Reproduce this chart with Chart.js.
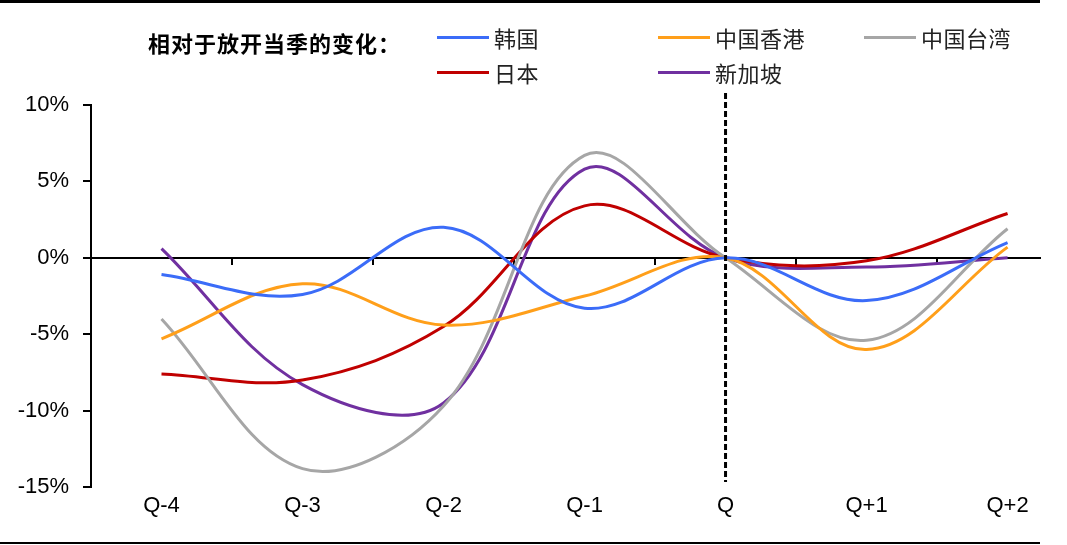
<!DOCTYPE html>
<html>
<head>
<meta charset="utf-8">
<script src="https://cdn.jsdelivr.net/npm/chart.js@4.4.1/dist/chart.umd.min.js"></script>
<style>
  body { margin: 0; background: #fff; }
  #wrap { position: relative; width: 1067px; height: 545px; overflow: hidden; }
  #chartBox { position: absolute; left: 0; top: 0; width: 1067px; height: 545px; }
  .rule { position: absolute; left: 0; width: 1040px; background: #000; }
  #title {
    position: absolute; left: 148px; top: 28px; letter-spacing: 1px;
    font: bold 22px "Noto Sans CJK SC", sans-serif; color: #000; line-height: 28px;
  }
  .leg { position: absolute; height: 28px; display: flex; align-items: center; }
  .leg i { display: block; width: 52px; height: 3px; margin-right: 5px; }
  .leg span { font: 22px "Noto Sans CJK SC", sans-serif; color: #222; line-height: 28px; letter-spacing: 0.5px; }
</style>
</head>
<body>
<div id="wrap">
  <div class="rule" style="top:0;height:3px"></div>
  <div id="chartBox"><canvas id="myChart"></canvas></div>
  <div id="title">相对于放开当季的变化：</div>
  <div id="legend"></div>
  <div class="rule" style="top:542px;height:2px"></div>
</div>
<script>
// 季度（放开当季为 Q）
const categories = ['Q-4', 'Q-3', 'Q-2', 'Q-1', 'Q', 'Q+1', 'Q+2'];

// 各地相对于放开当季的变化，%
const korea     = [-1.1,  -2.4,   2.0, -3.3, 0, -2.8, 1.0];
const hongKong  = [-5.3,  -1.7,  -4.4, -2.5, 0, -6.0, 0.7];
const taiwan    = [-4.0, -13.8,  -9.7,  6.7, 0, -5.4, 1.9];
const japan     = [-7.6,  -8.0,  -4.5,  3.4, 0, -0.2, 2.9];
const singapore = [ 0.6,  -8.3,  -9.5,  5.8, 0, -0.6, 0.0];

const seriesNames  = ['韩国', '中国香港', '中国台湾', '日本', '新加坡'];
const seriesValues = [korea, hongKong, taiwan, japan, singapore];
const seriesColors = ['#3b6cf8', '#ff9f1a', '#a6a6a6', '#c00000', '#7030a0'];

const yTicks = [-15, -10, -5, 0, 5, 10];

// 图例：三列两行
const legendBox = document.getElementById('legend');
const legCols = [437, 658, 864];
const legRows = [23, 58];
seriesNames.forEach((name, i) => {
  const d = document.createElement('div');
  d.className = 'leg';
  d.style.left = legCols[i % 3] + 'px';
  d.style.top = legRows[Math.floor(i / 3)] + 'px';
  d.innerHTML = `<i style="background:${seriesColors[i]}"></i><span>${name}</span>`;
  legendBox.appendChild(d);
});

const toPoints = arr => arr.map((v, i) => ({ x: i, y: v }));

// 放开当季的竖虚线
const qLine = {
  id: 'qLine',
  afterDatasetsDraw(chart) {
    const { ctx, chartArea, scales } = chart;
    const x = scales.x.getPixelForValue(categories.indexOf('Q'));
    ctx.save();
    ctx.strokeStyle = '#000';
    ctx.lineWidth = 3;
    ctx.setLineDash([6, 3]);
    ctx.beginPath();
    ctx.moveTo(x, chartArea.top - 12);
    ctx.lineTo(x, chartArea.bottom - 5);
    ctx.stroke();
    ctx.restore();
  }
};

const tickFont = { family: '"Liberation Sans", Arial, sans-serif', size: 22 };
const xMin = -0.5, xMax = 6.23;

new Chart('myChart', {
  type: 'line',
  data: {
    datasets: seriesNames.map((name, i) => ({
      label: name,
      data: toPoints(seriesValues[i]),
      borderColor: seriesColors[i],
      backgroundColor: seriesColors[i],
      borderWidth: 3,
      pointRadius: 0,
      tension: 0.36,
      fill: false
    }))
  },
  options: {
    responsive: true,
    maintainAspectRatio: false,
    animation: false,
    events: [],
    layout: { padding: { top: 105, right: 27, left: 0, bottom: 0 } },
    plugins: { legend: { display: false }, tooltip: { enabled: false } },
    scales: {
      x: {
        type: 'linear',
        min: xMin, max: xMax,
        afterBuildTicks: s => { s.ticks = categories.map((c, i) => ({ value: i })); },
        afterFit: s => { s.height = 58; },
        ticks: {
          autoSkip: false, maxRotation: 0, padding: 6,
          color: '#000', font: tickFont,
          callback: v => categories[v]
        },
        grid: { display: false, drawTicks: false },
        border: { display: false }
      },
      x0: {
        type: 'linear',
        position: { y: 0 },
        min: xMin, max: xMax,
        afterBuildTicks: s => { s.ticks = categories.slice(0, -1).map((c, i) => ({ value: i + 0.5 })); },
        ticks: { display: false },
        grid: { drawOnChartArea: false, tickLength: 6, color: '#000', lineWidth: 2 },
        border: { color: '#000', width: 2 }
      },
      y: {
        min: -15, max: 10,
        afterBuildTicks: s => { s.ticks = yTicks.map(v => ({ value: v })); },
        afterFit: s => { s.width = 91; },
        ticks: { color: '#000', font: tickFont, padding: 14, callback: v => v + '%' },
        grid: { drawOnChartArea: false, tickLength: 8, color: '#000', lineWidth: 2 },
        border: { color: '#000', width: 2 }
      }
    }
  },
  plugins: [qLine]
});
</script>
</body>
</html>
